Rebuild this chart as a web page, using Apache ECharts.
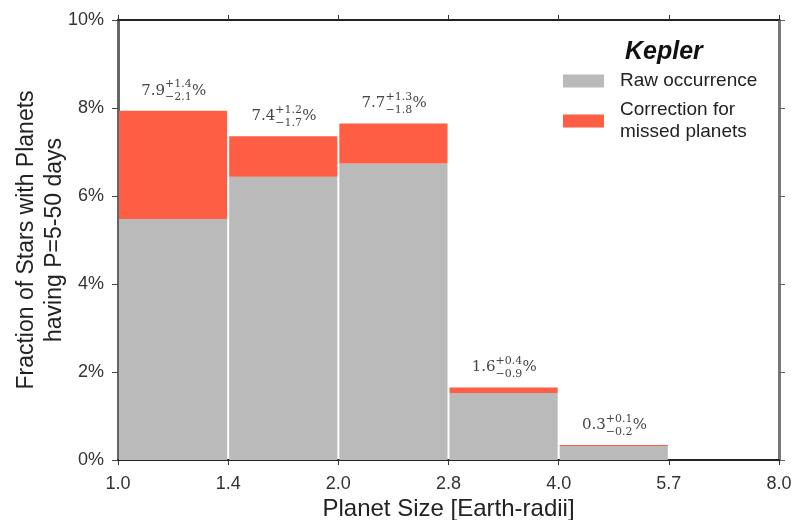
<!DOCTYPE html>
<html>
<head>
<meta charset="utf-8">
<script src="https://cdn.jsdelivr.net/npm/echarts@6/dist/echarts.min.js"></script>
<style>
  html, body { margin: 0; padding: 0; background: #fff; }
  #main { width: 793px; height: 520px; }
</style>
</head>
<body>
<div id="main"></div>
<script>
// bin edges (equal width on the plot)
const xTicks = ["1.0", "1.4", "2.0", "2.8", "4.0", "5.7", "8.0"];
// bar heights in %
const rawValues = [5.48, 6.44, 6.74, 1.52, 0.32];
const totalValues = [7.94, 7.36, 7.65, 1.65, 0.34];
// labels above bars
const labelValues = ["7.9", "7.4", "7.7", "1.6", "0.3"];
const errUp = ["+1.4", "+1.2", "+1.3", "+0.4", "+0.1"];
const errDown = ["\u22122.1", "\u22121.7", "\u22121.8", "\u22120.9", "\u22120.2"];
const yTicks = [0, 2, 4, 6, 8, 10];

const GRAY = "#bababa";
const RED = "#fd5e44";

const chart = echarts.init(document.getElementById("main"));

function barItem(color) {
  return function (params, api) {
    const i = api.value(0);
    const p0 = api.coord([i, api.value(1)]);
    const p1 = api.coord([i + 1, api.value(2)]);
    return {
      type: "rect",
      shape: { x: p0[0] + 1, y: p1[1], width: p1[0] - p0[0] - 2, height: p0[1] - p1[1] },
      style: { fill: color }
    };
  };
}

const rawData = rawValues.map((v, i) => [i, 0, v]);
const corrData = rawValues.map((v, i) => [i, v, totalValues[i]]);
const labelData = totalValues.map((v, i) => [i + 0.5, v]);

const serif = "DejaVu Serif";
const sans = "Liberation Sans";
const labelColor = "#444";

const options = {
  animation: false,
  title: {
    text: "Kepler",
    left: 620,
    top: 35,
    textStyle: { fontFamily: sans, fontSize: 25, fontWeight: "bold", fontStyle: "italic", color: "#111" }
  },
  legend: {
    data: [
      { name: "Raw occurrence", icon: "rect" },
      { name: "Correction for\nmissed planets", icon: "rect" }
    ],
    orient: "vertical",
    left: 563,
    top: 70,
    padding: 0,
    itemWidth: 41,
    itemHeight: 13,
    itemGap: 7,
    textStyle: { fontFamily: sans, fontSize: 19, color: "#222", lineHeight: 22, padding: [0, 0, 0, 11] },
    selectedMode: false
  },
  grid: { left: 118, right: 14, top: 20, bottom: 60, containLabel: false, outerBoundsMode: "none" },
  xAxis: [
    {
      type: "value",
      min: 0,
      max: 6,
      interval: 1,
      name: "Planet Size [Earth-radii]",
      nameLocation: "middle",
      nameGap: 37,
      nameMoveOverlap: false,
      nameTextStyle: { fontFamily: sans, fontSize: 24, color: "#222" },
      axisLine: { onZero: false, lineStyle: { color: "#222", width: 2 } },
      axisTick: { length: 5, lineStyle: { color: "#333" } },
      axisLabel: {
        formatter: (v) => xTicks[v],
        fontFamily: sans,
        fontSize: 18,
        color: "#333",
        margin: 15
      },
      splitLine: { show: false }
    },
    {
      type: "value",
      position: "top",
      min: 0,
      max: 6,
      interval: 1,
      axisLine: { show: true, onZero: false, lineStyle: { color: "#222", width: 2 } },
      axisTick: { show: true, length: 5, lineStyle: { color: "#333" } },
      axisLabel: { show: false },
      splitLine: { show: false }
    }
  ],
  yAxis: [
    {
      type: "value",
      min: 0,
      max: 10,
      interval: 2,
      name: "Fraction of Stars with Planets\nhaving P=5-50 days",
      nameLocation: "middle",
      nameGap: 49,
      nameMoveOverlap: false,
      nameTextStyle: { fontFamily: sans, fontSize: 23, color: "#222", lineHeight: 28 },
      axisLine: { show: true, onZero: false, lineStyle: { color: "#666", width: 3 } },
      axisTick: { show: true, length: 6, lineStyle: { color: "#444" } },
      axisLabel: {
        formatter: (v) => (yTicks.indexOf(v) >= 0 ? v + "%" : ""),
        fontFamily: sans,
        fontSize: 18,
        color: "#333",
        margin: 14
      },
      splitLine: { show: false }
    },
    {
      type: "value",
      position: "right",
      min: 0,
      max: 10,
      interval: 2,
      axisLine: { show: true, onZero: false, lineStyle: { color: "#777", width: 3 } },
      axisTick: { show: true, length: 6, lineStyle: { color: "#666" } },
      axisLabel: { show: false },
      splitLine: { show: false }
    }
  ],
  series: [
    {
      name: "Raw occurrence",
      type: "custom",
      itemStyle: { color: GRAY },
      renderItem: barItem(GRAY),
      data: rawData
    },
    {
      name: "Correction for\nmissed planets",
      type: "custom",
      itemStyle: { color: RED },
      renderItem: barItem(RED),
      data: corrData
    },
    {
      name: "labels",
      type: "custom",
      silent: true,
      renderItem: function (params, api) {
        const i = params.dataIndex;
        const p = api.coord([api.value(0), api.value(1)]);
        const cx = p[0] + 2;
        const cy = p[1] - 20;
        return {
          type: "group",
          children: [
            {
              type: "text",
              style: {
                text: labelValues[i], x: cx - 10, y: cy,
                align: "right", verticalAlign: "middle",
                font: "15px '" + serif + "'", fill: labelColor
              }
            },
            {
              type: "text",
              style: {
                text: errUp[i], x: cx - 10, y: cy - 6,
                align: "left", verticalAlign: "middle",
                font: "11px '" + serif + "'", fill: labelColor
              }
            },
            {
              type: "text",
              style: {
                text: errDown[i], x: cx - 10, y: cy + 7,
                align: "left", verticalAlign: "middle",
                font: "11px '" + serif + "'", fill: labelColor
              }
            },
            {
              type: "text",
              style: {
                text: "%", x: cx + 17, y: cy,
                align: "left", verticalAlign: "middle",
                font: "15px '" + serif + "'", fill: labelColor
              }
            }
          ]
        };
      },
      data: labelData
    }
  ]
};

chart.setOption(options);
</script>
</body>
</html>
